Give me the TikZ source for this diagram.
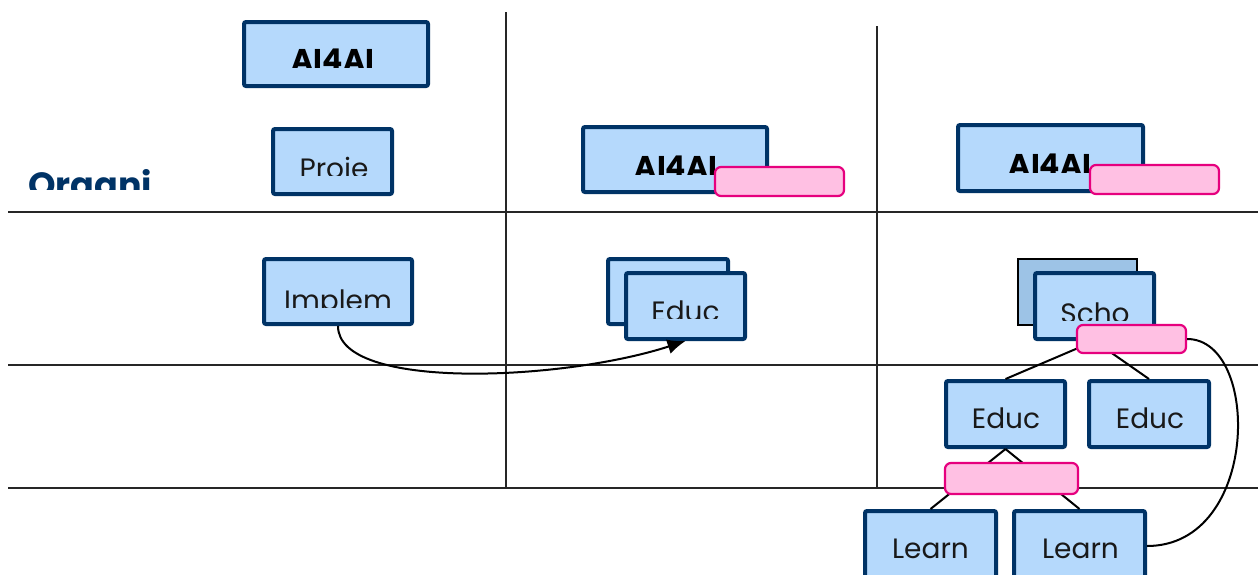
\documentclass[tikz,border=0pt]{standalone}
\usepackage{fontspec}
\setmainfont{Poppins}
\usetikzlibrary{arrows.meta,calc}
\definecolor{navy}{RGB}{0,51,102}
\definecolor{lblue}{RGB}{181,217,252}
\definecolor{mblue}{RGB}{157,195,230}
\definecolor{pinkf}{RGB}{255,192,227}
\definecolor{pinkd}{RGB}{230,0,126}
\begin{document}
\begin{tikzpicture}[x=0.5pt,y=-0.5pt,
  sz/.style 2 args={minimum width=#1*0.5pt,minimum height=#2*0.5pt},
  bbox/.style={draw=navy,fill=lblue,line width=2pt,rounded corners=1pt,inner sep=0pt},
  backbox/.style={draw=black,fill=mblue,line width=1pt,inner sep=0pt},
  pbox/.style={draw=pinkd,fill=pinkf,line width=1.1pt,rounded corners=3pt,inner sep=0pt},
  gridline/.style={line width=1pt,draw=black!85},
  conn/.style={line width=1pt,draw=black},
  txt/.style={font=\fontsize{14}{16}\selectfont,text=black!90,inner sep=0pt,anchor=base},
  txtb/.style={font=\fontsize{15}{17}\selectfont\bfseries,text=black,inner sep=0pt,anchor=base},
]
\clip (0,0) rectangle (1258,574);
\fill[white] (0,0) rectangle (1258,574);

% grid
\draw[gridline] (8,212) -- (1258,212);
\draw[gridline] (8,365) -- (1258,365);
\draw[gridline] (8,488) -- (1258,488);
\draw[gridline] (506,12) -- (506,488);
\draw[gridline] (877,26) -- (877,488);

% blue boxes
\node[bbox,sz={184}{64}] (ai1) at (336,54) {};
\node[bbox,sz={119}{65}] (proj) at (332.5,161.5) {};
\node[bbox,sz={184}{65}] (ai2) at (675,159.5) {};
\node[bbox,sz={185}{66}] (ai3) at (1050.5,158) {};
\node[bbox,sz={148}{65}] (impl) at (338,291.5) {};
\node[bbox,sz={120}{65}] (educB) at (668,291.5) {};
\node[bbox,sz={119}{66}] (educF) at (685.5,306) {};
\node[backbox,sz={119}{66}] (schoB) at (1077,291.5) {};
\node[bbox,sz={119}{66}] (schoF) at (1094.5,306) {};
\node[bbox,sz={119}{66}] (educL) at (1005.5,414) {};
\node[bbox,sz={120}{66}] (educR) at (1149,414) {};
\node[bbox,sz={131}{70}] (learnA) at (930.5,546) {};
\node[bbox,sz={131}{70}] (learnB) at (1079.5,546) {};

% texts (clipped as in the reference)
\begin{scope}
  \clip (243,21) rectangle (429,67);
  \node[txtb] (t-ai1) at (333,70) {AI4AI};
\end{scope}
\begin{scope}
  \clip (272,128) rectangle (393,175);
  \node[txt] (t-proj) at (334,178) {Proje};
\end{scope}
\begin{scope}
  \clip (0,100) rectangle (240,189);
  \node[font=\fontsize{17.5}{20}\selectfont\bfseries,text=navy,inner sep=0pt,anchor=base] (t-org) at (90,197) {Organi};
\end{scope}
\begin{scope}
  \clip (582,126) rectangle (768,174);
  \node[txtb] (t-ai2) at (676,177) {AI4AI};
\end{scope}
\begin{scope}
  \clip (957,124) rectangle (1144,172);
  \node[txtb] (t-ai3) at (1050,175) {AI4AI};
\end{scope}
\begin{scope}
  \clip (263,258) rectangle (413,307);
  \node[txt] (t-impl) at (338,310) {Implem};
\end{scope}
\begin{scope}
  \clip (625,272) rectangle (746,318);
  \node[txt] (t-educF) at (685.5,321) {Educ};
\end{scope}
\begin{scope}
  \clip (1034,272) rectangle (1155,320);
  \node[txt] (t-scho) at (1095,323) {Scho};
\end{scope}
\node[txt] (t-educL) at (1006,428) {Educ};
\node[txt] (t-educR) at (1150,428) {Educ};
\node[txt] (t-learnA) at (930.5,558) {Learn};
\node[txt] (t-learnB) at (1080.5,558) {Learn};

% connectors (under the pink labels)
\draw[conn] (schoF.south) -- (educL.north);
\draw[conn] (schoF.south) -- (educR.north);
\draw[conn] (educL.south) -- (learnA.north);
\draw[conn] (educL.south) -- (learnB.north);

% pink labels
\node[pbox,sz={129}{29}] (p2) at (779.5,181.5) {};
\node[pbox,sz={129}{29}] (p3) at (1154.5,179.5) {};
\node[pbox,sz={109}{28}] (pS) at (1131.5,339) {};
\node[pbox,sz={133}{31}] (pE) at (1011.5,478.5) {};

% curves
\draw[conn] (pS.east) .. controls +(74,0) and +(113,0) .. (learnB.east);
\draw[conn,-{Latex[length=9pt,width=7.5pt]}] (impl.south) .. controls +(0,65) and +(-123,40) .. (educF.south);
\end{tikzpicture}
\end{document}
